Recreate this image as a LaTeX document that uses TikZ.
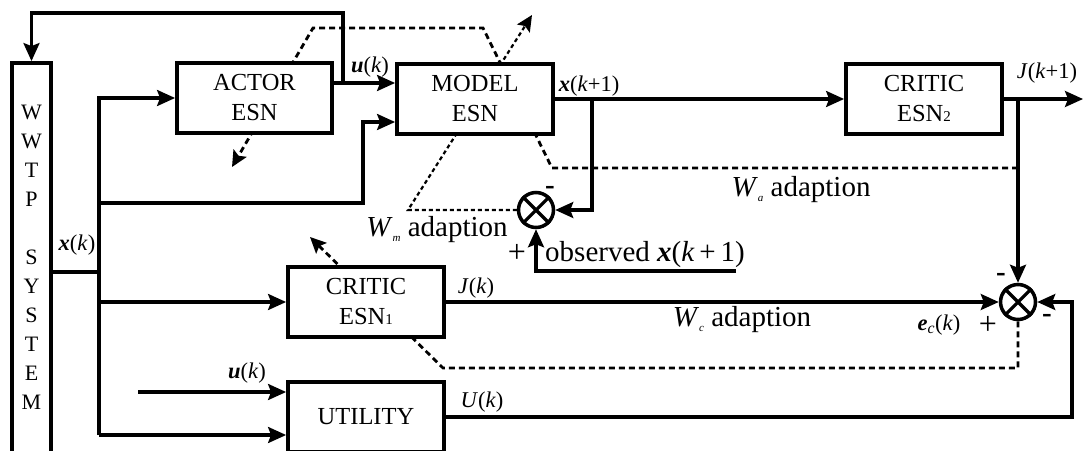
\documentclass[tikz,border=0pt]{standalone}
\usepackage{fontspec}
\setmainfont{Liberation Serif}
\usetikzlibrary{arrows.meta,backgrounds}

\newlength{\du}
\setlength{\du}{1pt}

\newcommand{\boxfont}{\fontsize{24.5}{30}\selectfont}
\newcommand{\lblfont}{\fontsize{22.5}{24}\selectfont}
\newcommand{\bigfont}{\fontsize{29}{32}\selectfont}
\newcommand{\xvec}{\textbf{\textit{x}}}
\newcommand{\uvec}{\textbf{\textit{u}}}
\newcommand{\wsub}[1]{\textit{W}\raisebox{-0.35ex}{\fontsize{11}{11}\selectfont\textit{#1}}}
\newcommand{\esnsub}[1]{{\fontsize{15}{15}\selectfont #1}}

\tikzset{
  esnbox/.style={draw, line width=3.8\du, fill=white, minimum width=156\du, minimum height=70\du, inner sep=0pt, align=center, font=\boxfont},
  sumnode/.style={draw, circle, line width=3.5\du, minimum size=35\du, inner sep=0pt, fill=white},
  wire/.style={line width=3.1\du},
  sig/.style={wire, -{Stealth[length=18pt,width=16pt,inset=3pt]}},
  adapt/.style={line width=2.8\du, dash pattern=on 6pt off 4pt, -{Stealth[length=16pt,width=15pt,inset=3pt]}},
  adaptthin/.style={adapt, line width=2.2\du, dash pattern=on 4pt off 3pt},
  lbl/.style={font=\lblfont, inner sep=0pt},
  biglbl/.style={font=\bigfont, inner sep=0pt},
}

\begin{document}
\begin{tikzpicture}
\pgftransformyscale{-1.000000}
\useasboundingbox (0\du,0\du) rectangle (1083\du,450\du);

% blocks
\node[esnbox, minimum width=39\du, minimum height=400\du] (wwtp) at (31.5\du,263\du) {};
\node[font=\fontsize{22}{29}\selectfont, align=center, inner sep=0pt] (wwtplabel) at (31.5\du,257\du) {W\\W\\T\\P\\[29pt]S\\Y\\S\\T\\E\\M};
\node[esnbox, minimum width=155\du] (actor) at (254.5\du,98\du) {ACTOR\\ESN};
\node[esnbox] (model) at (475\du,99\du) {MODEL\\ESN};
\node[esnbox] (critic2) at (924\du,99\du) {CRITIC\\ESN\esnsub{2}};
\node[esnbox] (critic1) at (366\du,302\du) {CRITIC\\ESN\esnsub{1}};
\node[esnbox] (utility) at (366\du,417\du) {UTILITY};
\node[sumnode] (summ) at (536\du,210\du) {};
\node[sumnode] (sumc) at (1018\du,302\du) {};
\draw[line width=3.2\du] (summ.north west) -- (summ.south east) (summ.north east) -- (summ.south west);
\draw[line width=3.2\du] (sumc.north west) -- (sumc.south east) (sumc.north east) -- (sumc.south west);

% junctions
\coordinate (ujunc) at (343\du,83\du);
\coordinate (utop) at (343\du,13\du);
\coordinate (xjunc) at (99\du,272\du);
\coordinate (bustop) at (99\du,98\du);
\coordinate (busbot) at (99\du,435\du);
\coordinate (mbend) at (363\du,203\du);
\coordinate (mlevel) at (363\du,122\du);
\coordinate (xkp) at (592\du,99\du);
\coordinate (obs) at (736\du,271\du);
\coordinate (jout) at (1083\du,99\du);
\coordinate (jjunc) at (1018\du,99\du);
\coordinate (uin) at (138\du,392\du);
\coordinate (uright) at (1072\du,302\du);

% signal flow
\draw[sig] (ujunc) -- (utop) -| (wwtp.north);
\draw[sig] (actor.east |- ujunc) -- (model.west |- ujunc);
\draw[wire] (wwtp.east |- xjunc) -- (xjunc);
\draw[sig] (busbot) -- (bustop) -- (actor.west);
\draw[sig] (busbot) -- (utility.west |- busbot);
\draw[sig] (bustop |- critic1.west) -- (critic1.west);
\draw[sig] (bustop |- mbend) -- (mbend) -- (mlevel) -- (model.west |- mlevel);
\draw[sig] (model.east) -- (critic2.west);
\draw[sig] (xkp) |- (summ.east);
\draw[sig] (obs) -| (summ.south);
\draw[sig] (critic2.east) -- (jout);
\draw[sig] (jjunc) -- (sumc.north);
\draw[sig] (critic1.east) -- (sumc.west);
\draw[sig] (uin) -- (utility.west |- uin);
\draw[sig] (utility.east) -| (uright) -- (sumc.east);

% adaption paths
\coordinate (wa1) at (1018\du,168\du);
\coordinate (wa2) at (552\du,168\du);
\coordinate (wa3) at (483\du,28\du);
\coordinate (wa4) at (313\du,28\du);
\coordinate (wa5) at (232\du,167\du);
\coordinate (wm1) at (408\du,210\du);
\coordinate (wm2) at (532\du,15\du);
\coordinate (wc1) at (443\du,368\du);
\coordinate (wc2) at (310\du,237\du);
\begin{scope}[on background layer]
\draw[adapt] (wa1) -- (wa2) -- (wa3) -- (wa4) -- (wa5);
\draw[adaptthin] (summ.west) -- (wm1) -- (wm2);
\draw[adapt] (sumc.south) |- (wc1) -- (wc2);
\end{scope}

% labels
\node[lbl] (ulbl) at (370\du,67\du) {\uvec(\textit{k})};
\node[lbl] (xkplbl) at (589\du,86\du) {\xvec(\textit{k}+1)};
\node[lbl] (jkplbl) at (1047\du,73\du) {\textit{J}(\textit{k}+1)};
\node[lbl] (xklbl) at (77\du,245\du) {\xvec(\textit{k})};
\node[lbl] (jklbl) at (476\du,288\du) {\textit{J}(\textit{k})};
\node[lbl] (uklbl) at (482\du,402\du) {\textit{U}(\textit{k})};
\node[lbl] (ulbl2) at (247\du,373\du) {\uvec(\textit{k})};
\node[lbl] (eclbl) at (939\du,325\du) {\textbf{\textit{e}}\textsubscript{\textit{c}}(\textit{k})};
\node[biglbl] (wmlbl) at (437\du,230\du) {\wsub{m} adaption};
\node[biglbl] (walbl) at (801\du,190\du) {\wsub{a} adaption};
\node[biglbl] (wclbl) at (742\du,320\du) {\wsub{c} adaption};
\node[biglbl] (obslbl) at (645\du,255\du) {observed \xvec(\textit{k}\,+\,1)};
\node[biglbl] (mminus) at (550\du,190\du) {\textbf{-}};
\node[biglbl, font=\fontsize{32}{32}\selectfont] (mplus) at (517\du,253\du) {+};
\node[biglbl] (cminus1) at (1001\du,277\du) {\textbf{-}};
\node[biglbl] (cminus2) at (1047\du,318\du) {\textbf{-}};
\node[biglbl, font=\fontsize{32}{32}\selectfont] (cplus) at (988\du,325\du) {+};
\end{tikzpicture}
\end{document}
